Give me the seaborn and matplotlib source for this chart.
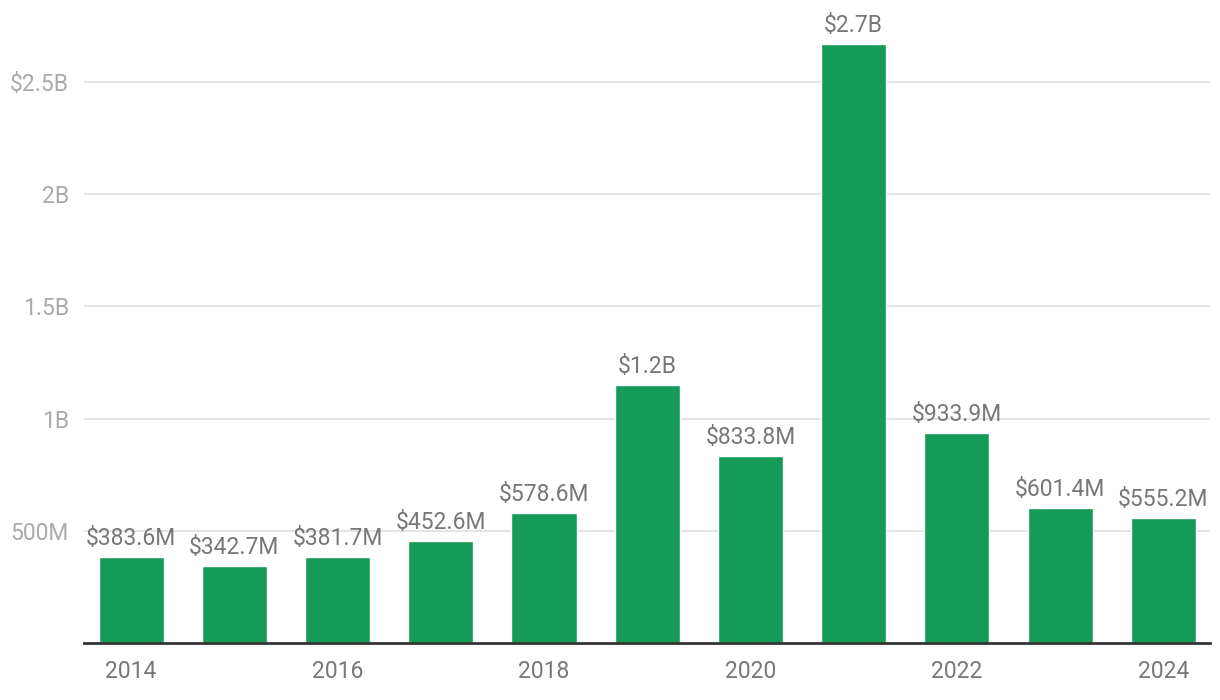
import numpy as np
import pandas as pd
import seaborn as sns
import matplotlib.pyplot as plt

# values in millions of dollars
years = [2014, 2015, 2016, 2017, 2018, 2019, 2020, 2021, 2022, 2023, 2024]
amounts = [383.6, 342.7, 381.7, 452.6, 578.6, 1150.0, 833.8, 2670.0, 933.9, 601.4, 555.2]
bar_labels = ["$383.6M", "$342.7M", "$381.7M", "$452.6M", "$578.6M", "$1.2B",
              "$833.8M", "$2.7B", "$933.9M", "$601.4M", "$555.2M"]
ytick_vals = [500, 1000, 1500, 2000, 2500]
ytick_labels = ["500M", "1B", "1.5B", "2B", "$2.5B"]

df = pd.DataFrame({"year": years, "amount": amounts})

sns.set_theme(style="white")
plt.rcParams["font.family"] = ["Roboto", "DejaVu Sans"]

fig = plt.figure(figsize=(12.2, 7), dpi=100)
ax = fig.add_axes([0.069, 0.0814, 0.923, 0.898])

sns.barplot(data=df, x="year", y="amount", color="#169a57", saturation=1,
            width=0.63, ax=ax, zorder=3)

# labels above bars
for i, (v, lab) in enumerate(zip(amounts, bar_labels)):
    ax.annotate(lab, (i, v), xytext=(0, 5), textcoords="offset points",
                ha="center", va="bottom", fontsize=16.5, color="#777777")

ax.set_xlim(-0.455, len(years) - 0.545)
ax.set_ylim(0, 2800)
ax.set_yticks(ytick_vals)
ax.set_yticklabels(ytick_labels)
ax.set_xticks(range(0, len(years), 2))
ax.set_xticklabels([str(y) for y in years[::2]])

ax.grid(axis="y", color="#e2e2e2", linewidth=1.3, zorder=0)
ax.set_axisbelow(True)
for s in ["top", "right", "left"]:
    ax.spines[s].set_visible(False)
ax.spines["bottom"].set_color("#333333")
ax.spines["bottom"].set_linewidth(2)
ax.spines["bottom"].set_zorder(4)

ax.tick_params(axis="y", length=0, pad=11, labelsize=16.5, labelcolor="#aaaaaa")
ax.tick_params(axis="x", length=0, pad=12, labelsize=16.5, labelcolor="#777777")
ax.set_xlabel("")
ax.set_ylabel("")

fig.savefig("out.png", dpi=100)
